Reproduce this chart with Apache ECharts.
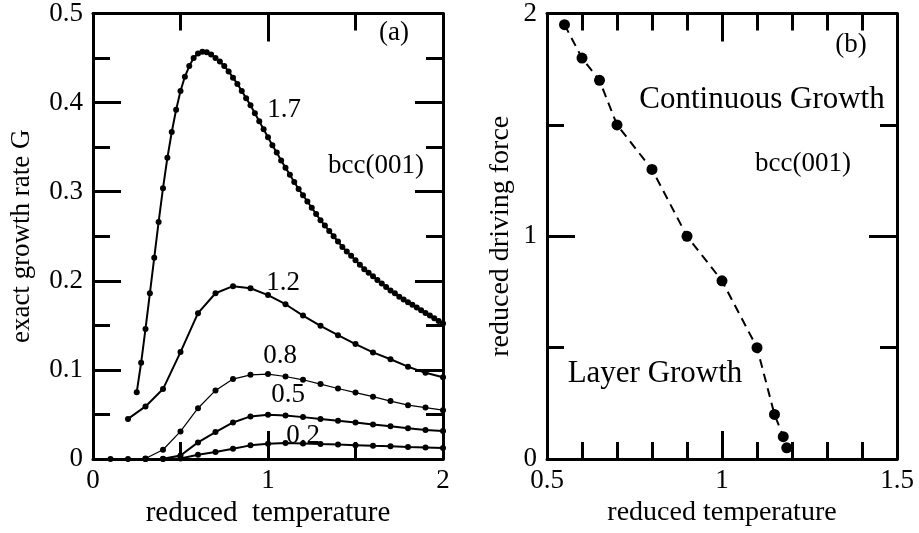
<!DOCTYPE html>
<html>
<head>
<meta charset="utf-8">
<script src="https://cdn.jsdelivr.net/npm/echarts@6/dist/echarts.min.js"></script>
<style>
html,body{margin:0;padding:0;background:#fff;}
#chart{width:919px;height:533px;}
</style>
</head>
<body>
<div id="chart"></div>
<script>
// ---------- Panel (a): exact growth rate vs reduced temperature ----------
const tA17 = [0.25,0.275,0.3,0.325,0.35,0.375,0.4,0.425,0.45,0.475,0.5,0.525,0.55,0.575,0.6,0.625,0.65,0.675,
  0.7,0.725,0.75,0.775,0.8,0.825,0.85,0.875,0.9,0.925,0.95,0.975,1.0,1.025,1.05,1.075,1.1,1.125,1.15,1.175,
  1.2,1.225,1.25,1.275,1.3,1.325,1.35,1.375,1.4,1.425,1.45,1.475,1.5,1.525,1.55,1.575,1.6,1.625,1.65,1.675,
  1.7,1.725,1.75,1.775,1.8,1.825,1.85,1.875,1.9,1.925,1.95,1.975,2.0];
const gA17 = [0.075,0.108,0.146,0.186,0.226,0.266,0.304,0.338,0.367,0.392,0.413,0.429,0.441,0.450,0.455,0.457,0.4565,0.454,
  0.450,0.446,0.441,0.435,0.428,0.421,0.413,0.405,0.397,0.388,0.379,0.370,0.361,0.352,0.344,0.335,0.327,0.319,0.311,0.303,
  0.296,0.289,0.282,0.275,0.268,0.262,0.256,0.250,0.244,0.238,0.233,0.228,0.223,0.218,0.213,0.209,0.205,0.201,0.197,0.193,
  0.189,0.186,0.182,0.179,0.176,0.173,0.170,0.167,0.164,0.161,0.158,0.155,0.152];

const tA12 = [0.2,0.3,0.4,0.5,0.6,0.7,0.8,0.9,1.0,1.1,1.2,1.3,1.4,1.5,1.6,1.7,1.8,1.9,2.0];
const gA12 = [0.045,0.059,0.0785,0.120,0.1637,0.186,0.194,0.1917,0.184,0.1737,0.161,0.1495,0.139,0.129,0.1196,0.112,0.1036,0.0967,0.0917];

const tA08 = [0.3,0.4,0.5,0.6,0.7,0.8,0.9,1.0,1.1,1.2,1.3,1.4,1.5,1.6,1.7,1.8,1.9,2.0];
const gA08 = [0.0005,0.0104,0.031,0.057,0.077,0.0897,0.0945,0.0953,0.0926,0.0889,0.0841,0.0791,0.0745,0.070,0.065,0.0604,0.0577,0.0548];

const tA05 = [0.3,0.4,0.5,0.6,0.7,0.8,0.9,1.0,1.1,1.2,1.3,1.4,1.5,1.6,1.7,1.8,1.9,2.0];
const gA05 = [0,0.0003,0.004,0.0186,0.0302,0.041,0.0478,0.0497,0.0489,0.047,0.045,0.0428,0.041,0.0386,0.0367,0.0344,0.0325,0.0315];

const tA02 = [0.1,0.2,0.3,0.4,0.5,0.6,0.7,0.8,0.9,1.0,1.1,1.2,1.3,1.4,1.5,1.6,1.7,1.8,1.9,2.0];
const gA02 = [0,0,0,0,0.0005,0.0048,0.0078,0.0115,0.0153,0.0172,0.018,0.0175,0.0168,0.0162,0.0155,0.0148,0.0142,0.0135,0.013,0.0123];

const curveLabels = ['1.7','1.2','0.8','0.5','0.2'];

// ---------- Panel (b): reduced driving force vs reduced temperature ----------
const tB = [0.55,0.6,0.65,0.7,0.8,0.9,1.0,1.1,1.15,1.175,1.185];
const fB = [1.95,1.8,1.7,1.5,1.3,1.0,0.8,0.5,0.2,0.1,0.05];

// tick settings
const xTicksA = {min:0, max:2, interval:1};
const yTicksA = {min:0, max:0.5, interval:0.1};
const xTicksB = {min:0.5, max:1.5, interval:0.5};
const yTicksB = {min:0, max:2, interval:1};

const FONT = '"Liberation Serif","Times New Roman",serif';
const zip = (a,b) => a.map((v,i)=>[v,b[i]]);

function axis(base, opts) {
  return Object.assign({
    type:'value',
    min: base.min, max: base.max, interval: base.interval,
    axisLine:{show:true, onZero:false, lineStyle:{color:'#000', width:3}},
    axisTick:{show:true, inside:true, length:28, lineStyle:{color:'#000', width:3}},
    minorTick:{show:true, splitNumber:opts.minor, length:17, lineStyle:{color:'#000', width:3}},
    splitLine:{show:false},
    axisLabel:{show: !opts.hideLabel, color:'#000', fontSize:27, fontFamily:FONT, margin:opts.margin||9},
    nameTextStyle:{color:'#000', fontSize:opts.nameSize||27, fontFamily:FONT}
  }, opts.extra||{});
}

const gridA = {left:93, top:13, width:350, height:446};
const gridB = {left:547, top:13, width:350, height:446};

function lineSeries(t, g, lw, sym) {
  return {
    type:'line', xAxisIndex:0, yAxisIndex:0, data: zip(t,g),
    symbol:'circle', symbolSize:sym, showSymbol:true, clip:false,
    lineStyle:{color:'#000', width:lw}, itemStyle:{color:'#000'}
  };
}

const option = {
  animation:false,
  backgroundColor:'#fff',
  grid:[gridA, gridB],
  xAxis:[
    axis(xTicksA, {minor:2, margin:8, nameSize:29, extra:{gridIndex:0, position:'bottom', name:'reduced  temperature', nameLocation:'middle', nameGap:33}}),
    axis(xTicksA, {minor:2, hideLabel:true, extra:{gridIndex:0, position:'top'}}),
    axis(xTicksB, {minor:5, margin:8, nameSize:28, extra:{gridIndex:1, position:'bottom', name:'reduced temperature', nameLocation:'middle', nameGap:33}}),
    axis(xTicksB, {minor:5, hideLabel:true, extra:{gridIndex:1, position:'top'}})
  ],
  yAxis:[
    axis(yTicksA, {minor:2, margin:10, nameSize:27, extra:{gridIndex:0, position:'left', name:'exact growth rate G', nameLocation:'middle', nameGap:58}}),
    axis(yTicksA, {minor:2, hideLabel:true, extra:{gridIndex:0, position:'right'}}),
    axis(yTicksB, {minor:2, margin:10, nameSize:28, extra:{gridIndex:1, position:'left', name:'reduced driving force', nameLocation:'middle', nameGap:32}}),
    axis(yTicksB, {minor:2, hideLabel:true, extra:{gridIndex:1, position:'right'}})
  ],
  series:[
    lineSeries(tA17, gA17, 2, 6),
    lineSeries(tA12, gA12, 2, 6),
    lineSeries(tA08, gA08, 1.2, 6),
    lineSeries(tA05, gA05, 2, 6),
    lineSeries(tA02, gA02, 2, 6),
    {
      type:'line', xAxisIndex:2, yAxisIndex:2, data: zip(tB,fB),
      symbol:'circle', symbolSize:11, clip:false,
      lineStyle:{color:'#000', width:2, type:[9,6]}, itemStyle:{color:'#000'}
    }
  ],
  graphic:[
    {type:'text', x:394, y:33, style:{text:'(a)', fill:'#000', fontSize:27, fontFamily:FONT, align:'center', verticalAlign:'middle'}},
    {type:'text', x:284, y:110, style:{text:curveLabels[0], fill:'#000', fontSize:27, fontFamily:FONT, align:'center', verticalAlign:'middle'}},
    {type:'text', x:376, y:166, style:{text:'bcc(001)', fill:'#000', fontSize:27, fontFamily:FONT, align:'center', verticalAlign:'middle'}},
    {type:'text', x:283, y:283, style:{text:curveLabels[1], fill:'#000', fontSize:27, fontFamily:FONT, align:'center', verticalAlign:'middle'}},
    {type:'text', x:280, y:356, style:{text:curveLabels[2], fill:'#000', fontSize:27, fontFamily:FONT, align:'center', verticalAlign:'middle'}},
    {type:'text', x:288, y:395, style:{text:curveLabels[3], fill:'#000', fontSize:27, fontFamily:FONT, align:'center', verticalAlign:'middle'}},
    {type:'text', x:303, y:436, style:{text:curveLabels[4], fill:'#000', fontSize:27, fontFamily:FONT, align:'center', verticalAlign:'middle'}},
    {type:'text', x:851, y:45, style:{text:'(b)', fill:'#000', fontSize:27, fontFamily:FONT, align:'center', verticalAlign:'middle'}},
    {type:'text', x:762, y:100, style:{text:'Continuous Growth', fill:'#000', fontSize:31, fontFamily:FONT, align:'center', verticalAlign:'middle'}},
    {type:'text', x:803, y:164, style:{text:'bcc(001)', fill:'#000', fontSize:27, fontFamily:FONT, align:'center', verticalAlign:'middle'}},
    {type:'text', x:655, y:374, style:{text:'Layer Growth', fill:'#000', fontSize:31, fontFamily:FONT, align:'center', verticalAlign:'middle'}}
  ]
};

const chart = echarts.init(document.getElementById('chart'), null, {renderer:'canvas'});
chart.setOption(option);
</script>
</body>
</html>
